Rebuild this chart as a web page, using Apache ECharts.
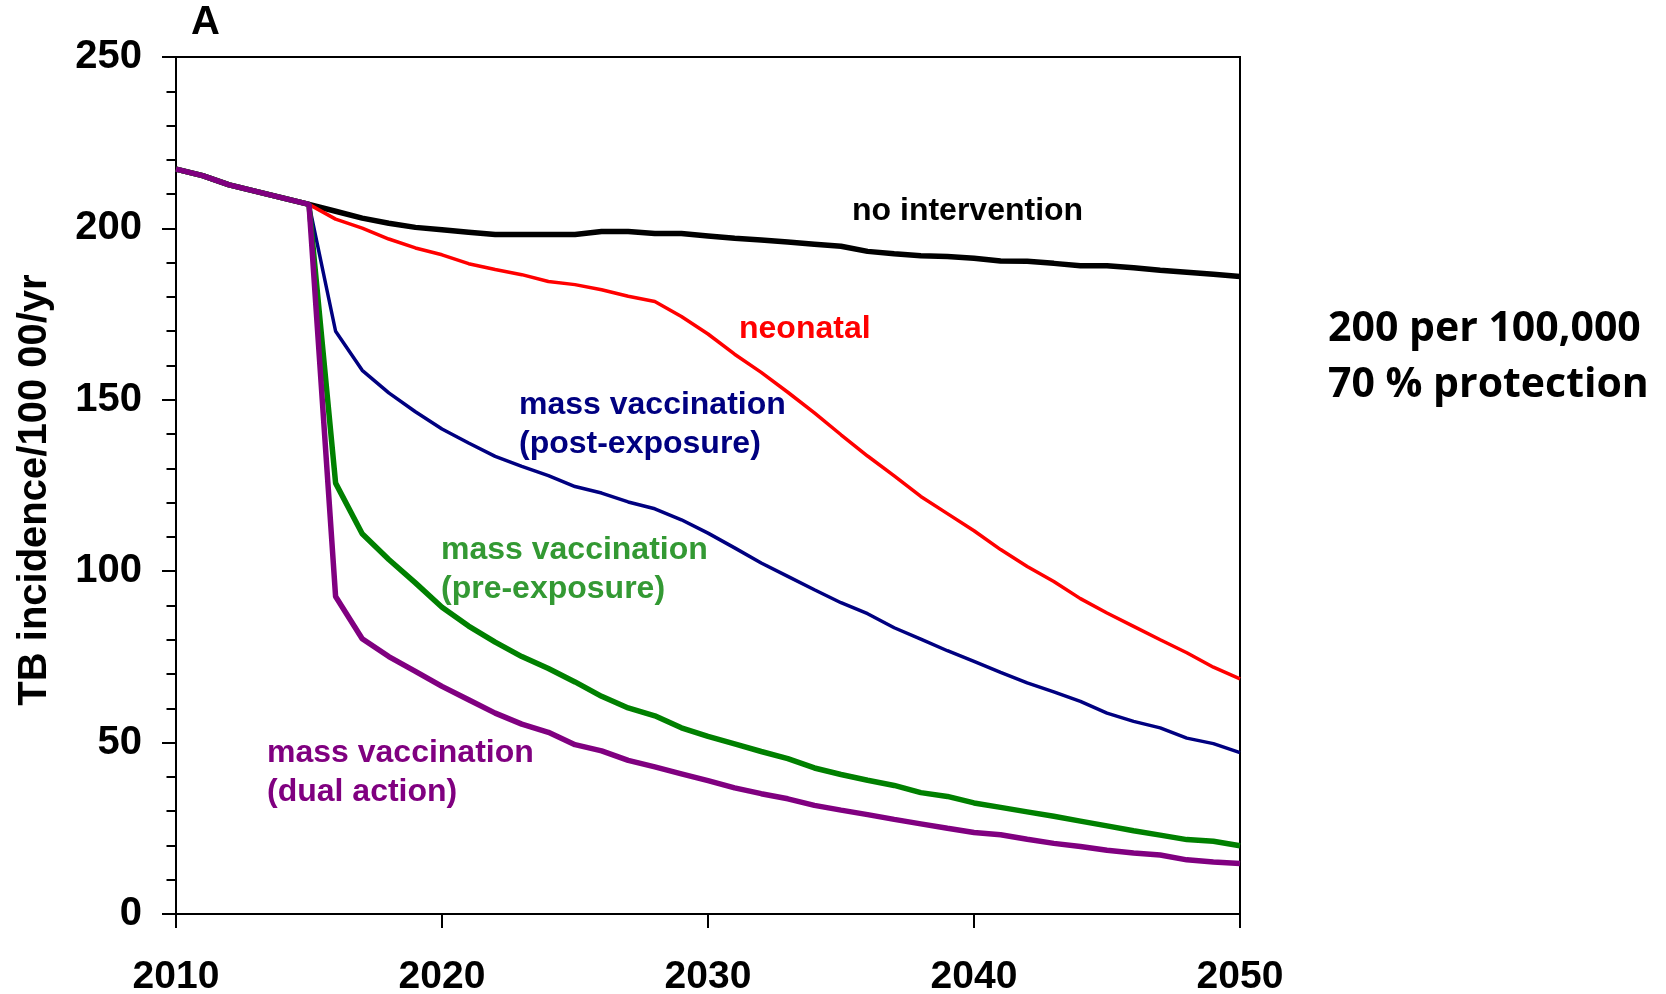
<!DOCTYPE html>
<html><head><meta charset="utf-8">
<script src="https://cdn.jsdelivr.net/npm/echarts@6/dist/echarts.min.js"></script>
<style>html,body{margin:0;padding:0;background:#fff}#c{width:1666px;height:994px}</style>
</head><body><div id="c"></div>
<script>
const years = [2010,2011,2012,2013,2014,2015,2016,2017,2018,2019,2020,2021,2022,2023,2024,2025,2026,2027,2028,2029,2030,2031,2032,2033,2034,2035,2036,2037,2038,2039,2040,2041,2042,2043,2044,2045,2046,2047,2048,2049,2050];
const history = [217.3,215.4,212.7,210.8,208.9,207.0];
const noIntervention = history.concat([205.0,203.0,201.5,200.3,199.6,198.9,198.2,198.2,198.2,198.2,199.1,199.1,198.5,198.5,197.8,197.1,196.6,196.0,195.4,194.8,193.3,192.6,192.0,191.8,191.3,190.5,190.4,189.8,189.1,189.1,188.5,187.8,187.2,186.6,186.0]);
const neonatal = history.concat([202.7,200.1,196.9,194.3,192.3,189.7,188.0,186.5,184.5,183.6,182.1,180.2,178.7,174.3,169.2,163.3,158.0,152.2,146.2,139.8,133.6,127.8,121.8,116.8,111.8,106.3,101.4,97.0,92.0,87.8,83.9,80.0,76.2,72.0,68.6]);
const postExposure = history.concat([170.0,158.6,152.0,146.5,141.5,137.4,133.5,130.6,127.9,124.7,122.8,120.2,118.2,115.0,111.1,106.8,102.4,98.5,94.6,90.8,87.6,83.5,80.2,76.8,73.7,70.5,67.4,64.8,62.0,58.6,56.2,54.3,51.3,49.7,47.1]);
const preExposure = history.concat([125.7,110.9,103.4,96.6,89.5,84.0,79.3,75.1,71.6,67.7,63.5,60.1,57.8,54.3,51.8,49.6,47.4,45.3,42.6,40.7,39.0,37.5,35.4,34.3,32.4,31.1,29.8,28.5,27.1,25.7,24.3,23.0,21.7,21.2,19.9]);
const dualAction = history.concat([92.6,80.3,75.1,70.8,66.4,62.5,58.6,55.4,53.0,49.4,47.6,44.8,42.9,40.9,38.9,36.8,35.1,33.6,31.7,30.3,29.0,27.6,26.3,25.0,23.8,23.1,21.8,20.6,19.7,18.6,17.8,17.2,15.8,15.2,14.7]);
const xTicks = [2010,2020,2030,2040,2050];
const yTicks = [0,50,100,150,200,250];

const pair = arr => years.map((y,i)=>[y,arr[i]]);
const F = 'Liberation Sans, Arial, sans-serif';
function lbl(text,x,y,color){
  return {type:'text',x:x,y:y,style:{text:text,fill:color,font:'bold 32px '+F,textAlign:'left',textVerticalAlign:'middle'}};
}
const chart = echarts.init(document.getElementById('c'),null,{renderer:'canvas'});
chart.setOption({
  animation:false,
  backgroundColor:'#fff',
  grid:{left:176,right:426,top:57,bottom:80,show:true,borderColor:'#000',borderWidth:2,backgroundColor:'transparent',
    containLabel:false,outerBoundsMode:'none'},
  xAxis:{type:'value',min:2010,max:2050,interval:10,
    axisLine:{show:true,lineStyle:{color:'#000',width:2}},
    axisTick:{show:true,length:14,lineStyle:{color:'#000',width:2}},
    splitLine:{show:false},
    axisLabel:{margin:44,color:'#000',fontFamily:F,fontWeight:'bold',fontSize:39,
      formatter:v=>xTicks.includes(v)?String(v):''}},
  yAxis:{type:'value',min:0,max:250,interval:50,
    axisLine:{show:true,lineStyle:{color:'#000',width:2}},
    axisTick:{show:true,length:14,lineStyle:{color:'#000',width:2}},
    minorTick:{show:true,splitNumber:5,length:9.5,lineStyle:{color:'#000',width:2}},
    splitLine:{show:false},minorSplitLine:{show:false},
    axisLabel:{margin:34,color:'#000',fontFamily:F,fontWeight:'bold',fontSize:40,
      formatter:v=>yTicks.includes(v)?String(v):''}},
  series:[
    {type:'line',data:pair(noIntervention),symbol:'none',lineStyle:{color:'#000',width:5.5},z:2},
    {type:'line',data:pair(neonatal),symbol:'none',lineStyle:{color:'#ff0000',width:3.5},z:3},
    {type:'line',data:pair(postExposure),symbol:'none',lineStyle:{color:'#000080',width:3.5},z:4},
    {type:'line',data:pair(preExposure),symbol:'none',lineStyle:{color:'#008000',width:5.5},z:5},
    {type:'line',data:pair(dualAction),symbol:'none',lineStyle:{color:'#800080',width:5.5},z:6}
  ],
  graphic:[
    {type:'text',x:191,y:23,style:{text:'A',fill:'#000',font:'bold 40px '+F,textAlign:'left',textVerticalAlign:'middle'}},
    {type:'text',x:35,y:490,rotation:Math.PI/2,style:{text:'TB incidence/100 00/yr',fill:'#000',font:'bold 40px '+F,textAlign:'center',textVerticalAlign:'middle'}},
    lbl('no intervention',852,211,'#000'),
    lbl('neonatal',739,329,'#ff0000'),
    lbl('mass vaccination',519,405,'#000080'),
    lbl('(post-exposure)',519,444,'#000080'),
    lbl('mass vaccination',441,550,'#339933'),
    lbl('(pre-exposure)',441,589,'#339933'),
    lbl('mass vaccination',267,753,'#800080'),
    lbl('(dual action)',267,792,'#800080'),
    {type:'text',x:1328,y:329,style:{text:'200 per 100,000',fill:'#000',font:'bold 41px "Open Sans", sans-serif',textAlign:'left',textVerticalAlign:'middle'}},
    {type:'text',x:1328,y:385,style:{text:'70 % protection',fill:'#000',font:'bold 41px "Open Sans", sans-serif',textAlign:'left',textVerticalAlign:'middle'}}
  ]
});
</script></body></html>
